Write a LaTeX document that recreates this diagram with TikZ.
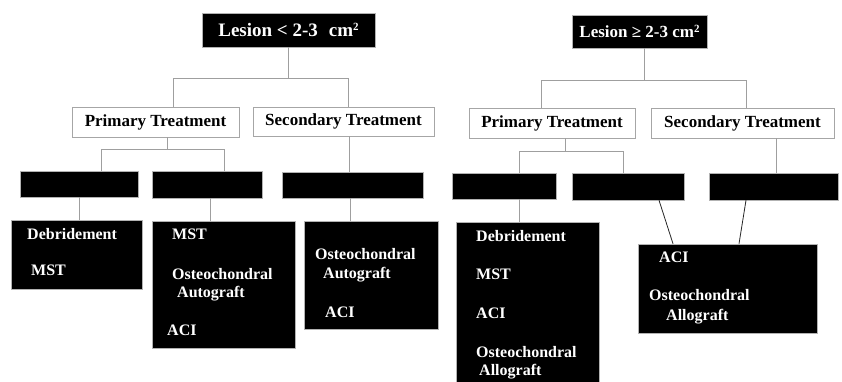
\documentclass[tikz,border=0pt]{standalone}
\usepackage{fontspec}
\setmainfont{Liberation Serif}
\newcommand{\sqsup}{\raisebox{0.75ex}{\fontsize{11}{11}\selectfont 2}}
\begin{document}
\begin{tikzpicture}[x=1pt,y=-1pt,
  blk/.style={draw=gray!60, fill=black, line width=0.5pt, inner sep=0pt},
  wbox/.style={draw=gray!70, fill=white, line width=0.6pt, inner sep=0pt, font=\fontsize{17}{20}\selectfont\bfseries},
  ttl/.style={blk, text=white},
  conn/.style={draw=gray!75, line width=0.7pt},
  dark/.style={draw=black!85, line width=0.8pt},
  itm/.style={text=white, font=\fontsize{16}{18}\selectfont\bfseries, anchor=mid west, inner sep=0pt}]
\useasboundingbox (0,0) rectangle (842,382);
\clip (0,0) rectangle (842,382);
% top titles
\node[ttl, minimum width=173pt, minimum height=34pt, font=\fontsize{19}{22}\selectfont\bfseries] (L1) at (288.5,30) {Lesion < 2-3\,\, cm\sqsup};
\node[ttl, minimum width=135pt, minimum height=33pt, font=\fontsize{17}{21}\selectfont\bfseries] (L2) at (639.5,31.5) {Lesion ≥ 2-3 cm\sqsup};
% treatment boxes
\node[wbox, minimum width=167pt, minimum height=30pt] (P1) at (155.5,122) {Primary Treatment};
\node[wbox, minimum width=181pt, minimum height=29pt] (S1) at (343.5,121.5) {Secondary Treatment};
\node[wbox, minimum width=166pt, minimum height=30pt] (P2) at (552,123) {Primary Treatment};
\node[wbox, minimum width=183pt, minimum height=30pt] (S2) at (742.5,123) {Secondary Treatment};
% empty black bars
\node[blk, minimum width=118pt, minimum height=26pt] (r1) at (79,184) {};
\node[blk, minimum width=110pt, minimum height=27pt] (r2) at (207,184.5) {};
\node[blk, minimum width=141pt, minimum height=26pt] (r3) at (352.5,185) {};
\node[blk, minimum width=104pt, minimum height=26pt] (r4) at (504,186) {};
\node[blk, minimum width=112pt, minimum height=27pt] (r5) at (628,186.5) {};
\node[blk, minimum width=129pt, minimum height=27pt] (r6) at (773.5,186.5) {};
% lower boxes
\node[blk, minimum width=131pt, minimum height=69pt] (A) at (76.5,254.5) {};
\node[blk, minimum width=143pt, minimum height=127pt] (B) at (223.5,284.5) {};
\node[blk, minimum width=134pt, minimum height=108pt] (C) at (371,275) {};
\node[blk, minimum width=143pt, minimum height=166pt] (G) at (527.5,305) {};
\node[blk, minimum width=179pt, minimum height=89pt] (H) at (727.5,288.5) {};
% texts
\node[itm] (a1) at (27,237) {Debridement};
\node[itm] (a2) at (31,273) {MST};
\node[itm] (b1) at (172,237) {MST};
\node[itm] (b2) at (172,277) {Osteochondral};
\node[itm] (b3) at (177,295) {Autograft};
\node[itm] (b4) at (167,333) {ACI};
\node[itm] (c1) at (315,257) {Osteochondral};
\node[itm] (c2) at (323,276) {Autograft};
\node[itm] (c3) at (325,315) {ACI};
\node[itm] (g1) at (476,239) {Debridement};
\node[itm] (g2) at (476,277) {MST};
\node[itm] (g3) at (476,316) {ACI};
\node[itm] (g4) at (476,355) {Osteochondral};
\node[itm] (g5) at (479,373) {Allograft};
\node[itm] (h1) at (659,260) {ACI};
\node[itm] (h2) at (649,298) {Osteochondral};
\node[itm] (h3) at (666,318) {Allograft};
% connectors left
\draw[conn] (L1.south) -- (L1.south |- 0,78);
\draw[conn] (173,0 |- P1.north) -- (173,78) -- (348,78) -- (348,0 |- S1.north);
\draw[conn] (167,0 |- P1.south) -- (167,149);
\draw[conn] (101,0 |- r1.north) -- (101,149) -- (224,149) -- (224,0 |- r2.north);
\draw[conn] (349,0 |- S1.south) -- (349,0 |- r3.north);
\draw[conn] (79,0 |- r1.south) -- (79,0 |- A.north);
\draw[conn] (210,0 |- r2.south) -- (210,0 |- B.north);
\draw[conn] (350,0 |- r3.south) -- (350,0 |- C.north);
% connectors right
\draw[conn] (644,0 |- L2.south) -- (644,80);
\draw[conn] (541,0 |- P2.north) -- (541,80) -- (746,80) -- (746,0 |- S2.north);
\draw[conn] (565,0 |- P2.south) -- (565,151);
\draw[conn] (519,0 |- r4.north) -- (519,151) -- (623,151) -- (623,0 |- r5.north);
\draw[conn] (776,0 |- S2.south) -- (776,0 |- r6.north);
\draw[conn] (519,0 |- r4.south) -- (519,0 |- G.north);
\draw[dark] (659,0 |- r5.south) -- (673,0 |- H.north);
\draw[dark] (746,0 |- r6.south) -- (739,0 |- H.north);
\end{tikzpicture}
\end{document}
